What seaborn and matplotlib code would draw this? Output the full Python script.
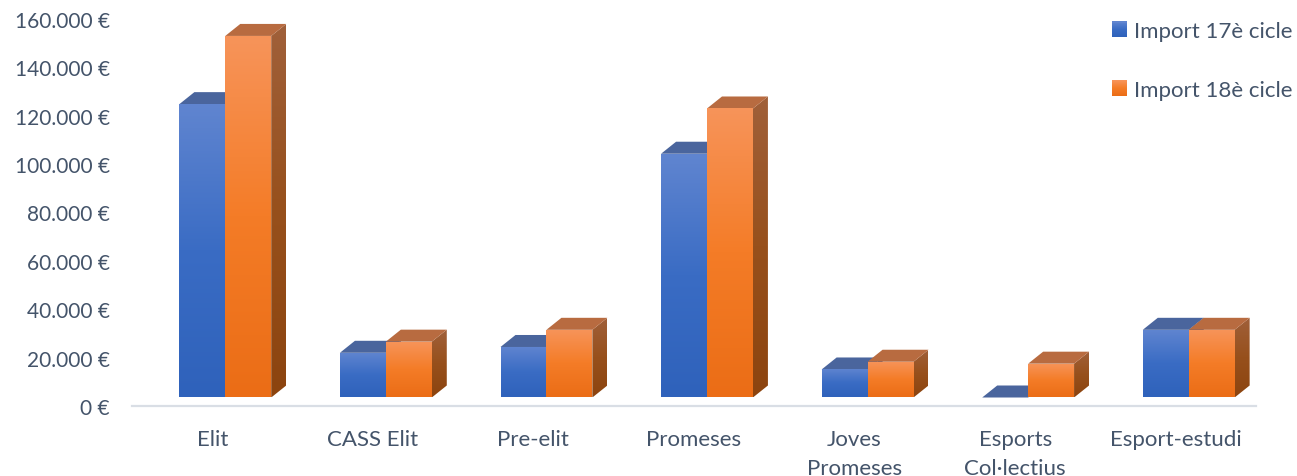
import numpy as np
import pandas as pd
import matplotlib
matplotlib.use("Agg")
import matplotlib.pyplot as plt
from matplotlib.colors import LinearSegmentedColormap
from matplotlib.legend_handler import HandlerBase
from matplotlib.patches import Patch, Polygon, Rectangle
import seaborn as sns

categories = ["Elit", "CASS Elit", "Pre-elit", "Promeses", "Joves\nPromeses",
              "Esports\nCol·lectius", "Esport-estudi"]
import_17 = [124800, 22000, 24400, 104300, 15100, 0, 31500]
import_18 = [153000, 26600, 31500, 123000, 18300, 17500, 31500]
series_names = ["Import 17è cicle", "Import 18è cicle"]
y_ticks = [0, 20000, 40000, 60000, 80000, 100000, 120000, 140000, 160000]

TEXT = "#44546A"
# gradient stops, bottom to top
FRONT = {0: ["#2F62BB", "#3A6CC4", "#6085D0"], 1: ["#EB6D16", "#F47C27", "#F7945A"]}
SIDE = {0: ["#1F4585", "#2C5499", "#3F5F9F"], 1: ["#8C440F", "#97501C", "#A0603A"]}
TOP = {0: "#4A659D", 1: "#B86B40"}

W, H = 1297, 477
sns.set_theme(style="white")
plt.rcParams["font.family"] = ["Lato", "DejaVu Sans"]

df = pd.DataFrame({
    "category": categories * 2,
    "serie": [series_names[0]] * 7 + [series_names[1]] * 7,
    "value": import_17 + import_18,
})

fig = plt.figure(figsize=(W / 100, H / 100), dpi=100)
ax = fig.add_axes([132 / W, 1 - 407 / H, 1124 / W, 387 / H])
sns.barplot(data=df, x="category", y="value", hue="serie", width=0.572, gap=0,
            legend=False, ax=ax)
ax.set_xlim(-0.5, 6.5)
ax.set_ylim(0, 160000)

# pixel sizes of the fake 3D look, converted to data units
px_x = 7 / 1124
px_y = 160000 / 387
shift = 13 * px_x
depth_x = 15 * px_x
depth_y = 12 * px_y
floor = 8.5 * px_y


def gradient(x0, x1, y0, y1, colors, clip, zorder):
    cmap = LinearSegmentedColormap.from_list("g", colors)
    img = ax.imshow(np.linspace(0, 1, 128)[:, None], cmap=cmap, origin="lower",
                    extent=[x0, x1, y0, y1], aspect="auto", zorder=zorder)
    img.set_clip_path(clip)


for s, container in enumerate(ax.containers):
    for bar in container:
        x0 = bar.get_x() + shift
        x1 = x0 + bar.get_width()
        top = max(bar.get_height(), floor)
        z = 2 + s
        bar.set_visible(False)

        # right side face
        side = Polygon([(x1, floor), (x1 + depth_x, floor + depth_y),
                        (x1 + depth_x, top + depth_y), (x1, top)],
                       closed=True, fc="none", ec="none", zorder=z)
        ax.add_patch(side)
        if top > floor:
            gradient(x1, x1 + depth_x, floor, top + depth_y, SIDE[s], side, z)

        # top face
        ax.add_patch(Polygon([(x0, top), (x0 + depth_x, top + depth_y),
                              (x1 + depth_x, top + depth_y), (x1, top)],
                             closed=True, fc=TOP[s], ec="none", zorder=z))

        # front face
        if top > floor:
            front = Rectangle((x0, floor), x1 - x0, top - floor, fc="none",
                              ec="none", zorder=z + 0.1)
            ax.add_patch(front)
            gradient(x0, x1, floor, top, FRONT[s], front, z + 0.1)

ax.set_xlim(-0.5, 6.5)
ax.set_ylim(0, 160000)

ax.set_xlabel("")
ax.set_ylabel("")
ax.set_yticks(y_ticks)
ax.set_yticklabels([f"{v:,}".replace(",", ".") + " €" for v in y_ticks])
ax.tick_params(axis="y", length=0, pad=16, labelsize=15, labelcolor=TEXT)
ax.tick_params(axis="x", length=0, pad=16.5, labelsize=16, labelcolor=TEXT)
for label in ax.get_xticklabels():
    label.set_linespacing(1.55)

sns.despine(ax=ax, left=True)
ax.spines["bottom"].set_color("#D9DEE5")
ax.spines["bottom"].set_linewidth(1.6)


class GradientSquare(HandlerBase):
    # legend swatch made of thin stripes so it fades like the bars
    def create_artists(self, legend, orig, xd, yd, width, height, fontsize, trans):
        cmap = LinearSegmentedColormap.from_list("g", orig.gradient_colors)
        n = 16
        return [Rectangle((-xd, -yd + height * i / n), width, height / n + 0.2,
                          fc=cmap(i / (n - 1)), ec="none", transform=trans)
                for i in range(n)]


handles = []
for s, name in enumerate(series_names):
    h = Patch(label=name)
    h.gradient_colors = FRONT[s]
    handles.append(h)

leg = fig.legend(handles=handles, handler_map={Patch: GradientSquare()},
                 loc="upper right", bbox_to_anchor=(1292 / W, 1 - 22 / H), frameon=False,
                 fontsize=16, labelcolor=TEXT, handlelength=0.68, handleheight=0.68,
                 handletextpad=0.28, labelspacing=1.75, borderpad=0, borderaxespad=0)

fig.savefig("out.png", dpi=100, facecolor="white")
